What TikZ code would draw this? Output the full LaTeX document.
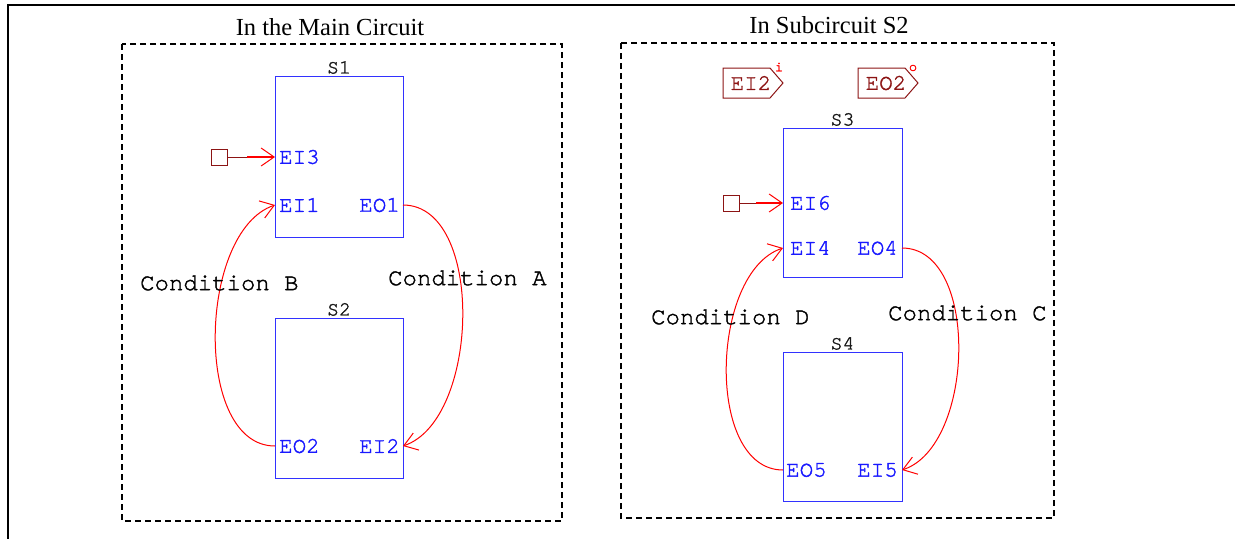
\documentclass[tikz,border=0pt]{standalone}
\usepackage{fontspec}
\setmainfont{Liberation Serif}
\setmonofont{texgyrecursor-regular.otf}[FakeBold=1.6]
\usetikzlibrary{arrows.meta}
\definecolor{portblue}{RGB}{25,25,255}
\definecolor{boxblue}{RGB}{50,50,255}
\definecolor{tagred}{RGB}{140,20,20}
\definecolor{wirered}{RGB}{255,0,0}
\begin{document}
\begin{tikzpicture}[x=1pt,y=-1pt,
  frame/.style={draw=black,line width=1.5pt},
  region/.style={draw=black,line width=2pt,dash pattern=on 6pt off 4pt},
  title/.style={font=\fontsize{24.5}{28}\selectfont\rmfamily,anchor=base,inner sep=0pt},
  block/.style={draw=boxblue,line width=1pt,inner sep=0pt},
  blabel/.style={font=\fontsize{20}{23}\selectfont\ttfamily,text=black!90,anchor=south,inner sep=1.5pt},
  port/.style={font=\fontsize{22.5}{26}\selectfont\ttfamily,text=portblue,inner sep=0pt},
  cond/.style={font=\fontsize{24}{28}\selectfont\ttfamily,text=black,anchor=west,inner sep=0pt},
  tip/.style={-{Straight Barb[length=13pt,width=18pt,line width=1pt]}},
  wire/.style={draw=wirered,line width=1pt,tip},
  insq/.style={draw=tagred,line width=1pt,minimum size=16pt,inner sep=0pt},
  stub/.style={draw=tagred,line width=0.8pt},
  feed/.style={draw=wirered,line width=1.8pt,tip},
  tagline/.style={draw=tagred,line width=1pt},
  tagtext/.style={font=\fontsize{22.5}{26}\selectfont\ttfamily,text=tagred,inner sep=0pt},
  small/.style={font=\fontsize{14}{16}\selectfont\ttfamily,text=wirered,inner sep=0pt}
]
\useasboundingbox (0,0) rectangle (1235,539);
% outer frame (only top and left visible)
\coordinate (fTR) at (1235,5);
\coordinate (fTL) at (8,5);
\coordinate (fBL) at (8,539);
\draw[frame] (fTR) -- (fTL) -- (fBL);

% regions
\draw[region] (122,44) rectangle (562,521);
\draw[region] (621,43) rectangle (1054,518);
\node[title] (t1) at (330,35) {In the Main Circuit};
\node[title] (t2) at (829,33) {In Subcircuit S2};

% blocks
\node[block,minimum width=128pt,minimum height=161pt] (S1) at (339,156.5) {};
\node[block,minimum width=128pt,minimum height=160pt] (S2) at (339,398) {};
\node[block,minimum width=119pt,minimum height=149pt] (S3) at (842.5,202.5) {};
\node[block,minimum width=119pt,minimum height=149pt] (S4) at (842.5,426.5) {};
\node[blabel] (l1) at (S1.north) {S1};
\node[blabel] (l2) at (S2.north) {S2};
\node[blabel] (l3) at (S3.north) {S3};
\node[blabel] (l4) at (S4.north) {S4};

% port labels
\node[port,anchor=west] (tEI3) at (279,157) {EI3};
\node[port,anchor=west] (tEI1) at (279,205) {EI1};
\node[port,anchor=east] (tEO1) at (400,205) {EO1};
\node[port,anchor=west] (tEO2) at (279,446) {EO2};
\node[port,anchor=east] (tEI2) at (400,446) {EI2};
\node[port,anchor=west] (tEI6) at (790,203) {EI6};
\node[port,anchor=west] (tEI4) at (790,248) {EI4};
\node[port,anchor=east] (tEO4) at (898,248) {EO4};
\node[port,anchor=west] (tEO5) at (786,470) {EO5};
\node[port,anchor=east] (tEI5) at (898,470) {EI5};

% port points
\coordinate (pEI3) at (275,157);
\coordinate (pEI1) at (275,205);
\coordinate (pEO1) at (403,205);
\coordinate (pEO2) at (275,446);
\coordinate (pEI2) at (403,446);
\coordinate (pEI6) at (783,203);
\coordinate (pEI4) at (783,248);
\coordinate (pEO4) at (902,248);
\coordinate (pEO5) at (783,470);
\coordinate (pEI5) at (902,470);

% inputs
\node[insq] (sq1) at (219,157) {};
\coordinate (m1) at (247,157);
\draw[stub] (sq1.east) -- (m1);
\draw[feed] (m1) -- (pEI3);
\node[insq] (sq2) at (731,203) {};
\coordinate (m2) at (756,203);
\draw[stub] (sq2.east) -- (m2);
\draw[feed] (m2) -- (pEI6);

% transitions
\draw[wire] (pEO1) .. controls (485,205) and (480,420) .. (pEI2);
\draw[wire] (pEO2) .. controls (193,446) and (198,231) .. (pEI1);
\draw[wire] (pEO4) .. controls (980,248) and (975,446) .. (pEI5);
\draw[wire] (pEO5) .. controls (705,470) and (710,272) .. (pEI4);

\node[cond] (cB) at (140,283) {Condition B};
\node[cond] (cA) at (388,278) {Condition A};
\node[cond] (cD) at (651,317) {Condition D};
\node[cond] (cC) at (888,313) {Condition C};

% tags
\draw[tagline] (723,68) -- (770,68) -- (783,83) -- (770,98) -- (723,98) -- cycle;
\node[tagtext] (g1) at (751,83) {EI2};
\node[small] (g1s) at (779,67) {i};
\draw[tagline] (858,68) -- (905,68) -- (918,83) -- (905,98) -- (858,98) -- cycle;
\node[tagtext] (g2) at (886,83) {EO2};
\node[small] (g2s) at (913,68) {o};
\end{tikzpicture}
\end{document}
